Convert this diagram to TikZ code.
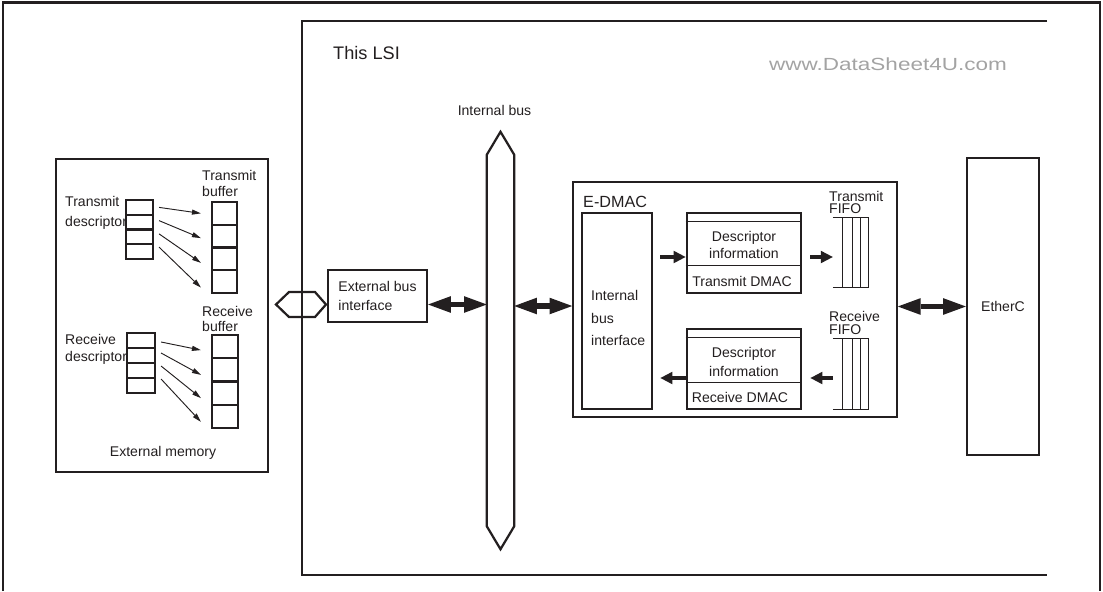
\documentclass[tikz,border=0pt]{standalone}
\usepackage{fontspec}
\setmainfont{Liberation Sans}
\newfontfamily\edmarkfont[FakeStretch=1.28]{Liberation Sans}
\usetikzlibrary{arrows.meta,positioning,calc}
\definecolor{edink}  {HTML}{231F20}
\definecolor{edmark} {HTML}{A3A3A3}
\tikzset{
  edsize/.style 2 args={minimum width=#1*0.03cm, minimum height=#2*0.03cm},
  edbox/.style={draw=edink, line width=1.9pt, inner sep=0pt},
  edheavy/.style={edbox, line width=2.5pt},
  edlight/.style={edbox, line width=1.4pt},
  edcell/.style={edbox, line width=1.8pt},
  edline/.style={draw=edink, line width=0.8pt},
  edframe/.style={draw=edink, line width=2pt},
  edtext/.style={font=\fontsize{12}{14}\selectfont, text=edink, inner sep=0pt},
  edsmall/.style={font=\fontsize{12}{14}\selectfont, text=edink, inner sep=0pt,
                  align=left, anchor=west},
  edwide/.style={draw=edink, line width=0.16cm,
                 {Triangle[length=0.68cm,width=0.5cm,line width=0pt]}-{Triangle[length=0.68cm,width=0.5cm,line width=0pt]}},
  edpush/.style={draw=edink, line width=0.12cm,
                 -{Triangle[length=0.36cm,width=0.38cm,line width=0pt]}},
  edpoint/.style={draw=edink, line width=0.8pt, -{Triangle[length=0.27cm,width=0.15cm]}},
}

\begin{document}
\begin{tikzpicture}[x=0.03cm, y=-0.03cm]
  \useasboundingbox (0,0) rectangle (1103,591);
  \draw[edframe] (3,591) -- (3,2.5) -- (1100,2.5) -- (1100,591);
  \draw[edframe, line width=2.3pt] (1047,21) -- (302,21) -- (302,575) -- (1047,575);
  \node[edtext, font=\fontsize{15.5}{18}\selectfont, anchor=west] (lsi) at (333,53) {This LSI};
  \node[font=\edmarkfont\fontsize{15}{18}\selectfont, text=edmark, inner sep=0pt] (mark) at (888,64) {www.DataSheet4U.com};

  \node[edbox, edsize={212}{313}] (mem) at (162,315.5) {};
  \foreach \i in {1,...,4} {
    \node[edcell, edsize={27}{14.75}] (td\i) at (139.5,{192.625+14.75*\i}) {};
    \node[edcell, edsize={25}{22.75}] (tb\i) at (224.5,{190.625+22.75*\i}) {};
    \node[edcell, edsize={28}{15}]    (rd\i) at (141,{325.5+15*\i}) {};
    \node[edcell, edsize={26}{23.25}] (rb\i) at (225,{323.375+23.25*\i}) {};
  }
  \foreach \i/\s/\e in {1/0/0,2/-1.5/2,3/-3/4,4/-4.5/6}
    \draw[edpoint] ($(td\i.east)+(5,\s)$) -- ($(tb\i.west)+(-10,\e)$);
  \foreach \i/\s/\e in {1/1.5/3.5,2/-2.5/5,3/-4.5/5,4/-6.5/5.5}
    \draw[edpoint] ($(rd\i.east)+(5,\s)$) -- ($(rb\i.west)+(-10,\e)$);
  \node[edsmall] (tdlabel) at (65,213)   {Transmit\\[3pt]descriptor};
  \node[edsmall] (tblabel) at (202,183.5) {Transmit\\buffer};
  \node[edsmall] (rdlabel) at (65,349.5) {Receive\\descriptor};
  \node[edsmall] (rblabel) at (202,319)  {Receive\\[-2pt]buffer};
  \node[edtext] (memlabel) at (163,453) {External memory};

  \coordinate (hex) at (301,304.5);
  \draw[edbox] (hex) ++(-25,0) -- ++(13,-12.5) -- ++(26,0) -- ++(11,12.5)
               -- ++(-11,12.5) -- ++(-26,0) -- cycle;
  \node[edbox, edtext, edsize={99}{52}, align=left] (ebi) at (377.5,296) {External bus\\[2pt]interface};

  \node[edsize={27}{417}, inner sep=0pt] (bus) at (500.5,340.5) {};
  \draw[edbox] (bus.north) -- ($(bus.north east)+(0,23)$) -- ($(bus.south east)+(0,-23)$)
               -- (bus.south) -- ($(bus.south west)+(0,-23)$) -- ($(bus.north west)+(0,23)$) -- cycle;
  \node[edtext, above=0.48cm of bus, xshift=-0.18cm] (buslabel) {Internal bus};

  \node[edlight, edsize={324}{235}] (edmac) at (735,299.5) {};
  \node[edtext, font=\fontsize{13.8}{16}\selectfont, anchor=west] (edmaclabel) at (583,202) {E-DMAC};
  \node[edheavy, edsize={70}{196}] (ibi) at (617,311) {};
  \node[edtext, align=left, anchor=west] (ibitext) at (591,318) {Internal\\[5pt]bus\\[5pt]interface};

  \node[edheavy, edsize={114}{80}] (tdmac) at (744,253) {};
  \draw[edline] ($(tdmac.north west)+(0,10)$) -- ($(tdmac.north east)+(0,10)$);
  \draw[edline] ($(tdmac.north west)+(0,54)$) -- ($(tdmac.north east)+(0,54)$);
  \node[edtext, align=center] (tinfo) at (744,245) {Descriptor\\information};
  \node[edtext] (tname) at (742,281) {Transmit DMAC};

  \node[edheavy, edsize={114}{80}] (rdmac) at (744,369) {};
  \draw[edline] ($(rdmac.north west)+(0,10)$) -- ($(rdmac.north east)+(0,10)$);
  \draw[edline] ($(rdmac.north west)+(0,55)$) -- ($(rdmac.north east)+(0,55)$);
  \node[edtext, align=center] (rinfo) at (744,362) {Descriptor\\[2pt]information};
  \node[edtext] (rname) at (740,397) {Receive DMAC};

  \node[edsize={36}{69}, inner sep=0pt] (tfifo) at (851,252.5) {};
  \node[edsize={36}{70}, inner sep=0pt] (rfifo) at (851,374) {};
  \foreach \f in {tfifo,rfifo} {
    \draw[edline] (\f.north west) -- (\f.north east) (\f.south west) -- (\f.south east);
    \foreach \d in {10,20,28,36}
      \draw[edline] ($(\f.north west)+(\d,0)$) -- ($(\f.south west)+(\d,0)$);
  }
  \node[edsmall] (tfifolabel) at (829,202.5) {Transmit\\[-3pt]FIFO};
  \node[edsmall] (rfifolabel) at (829,323)   {Receive\\[-3pt]FIFO};

  \coordinate (trow) at (0,257);
  \coordinate (rrow) at (0,378);
  \coordinate (brow) at (0,306);
  \draw[edpush] ($(ibi.east |- trow)+(7,0)$) -- (tdmac.west |- trow);
  \draw[edpush] ($(tdmac.east |- trow)+(8,0)$) -- (tfifo.west |- trow);
  \draw[edpush] (rfifo.west |- rrow) -- ($(rdmac.east |- rrow)+(8,0)$);
  \draw[edpush] (rdmac.west |- rrow) -- ($(ibi.east |- rrow)+(7,0)$);

  \node[edbox, edtext, edsize={72}{297}] (etherc) at (1003,306.5) {EtherC};

  \draw[edwide] (ebi.east |- hex) -- (bus.west |- hex);
  \draw[edwide] (bus.east |- brow) -- (edmac.west |- brow);
  \draw[edwide] (edmac.east |- etherc.west) -- (etherc.west);
\end{tikzpicture}
\end{document}
